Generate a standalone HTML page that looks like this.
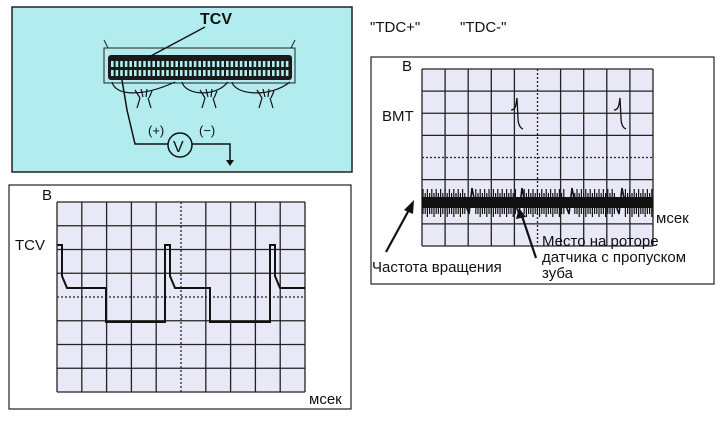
<!DOCTYPE html>
<html><head><meta charset="utf-8"><style>
html,body{margin:0;padding:0;background:#fff;width:725px;height:421px;overflow:hidden}
svg{display:block}
text{font-family:"Liberation Sans",sans-serif;fill:#111}
</style></head><body>
<svg id="s" width="725" height="421" viewBox="0 0 725 421" xmlns="http://www.w3.org/2000/svg">
<rect x="12" y="7" width="340" height="165" fill="#b2ecee" stroke="#222" stroke-width="1.5"/>
<path d="M108,48 L104,40 M291,48 L295,40" stroke="#222" fill="none"/>
<rect x="104" y="48" width="191" height="35" fill="#b2ecee" stroke="#222"/>
<rect x="108" y="55" width="184" height="25" rx="3" fill="#1a1a1a"/>
<g id="pins"></g>
<path d="M205,27 L147,58" stroke="#111" stroke-width="1.3"/>
<text x="200" y="24" font-size="16" font-weight="bold">TCV</text>
<g stroke="#111" fill="none" stroke-width="1.2">
<path d="M112,82 C115,95 140,98 175,82 M182,82 C185,95 215,98 228,82 M232,82 C235,95 270,98 290,82"/>
<path d="M140,98 l-5,-8 M143,97 l-2,-8 M146,97 l1,-8 M149,98 l3,-7 M205,98 l-5,-8 M208,97 l-2,-8 M211,97 l1,-8 M214,98 l3,-7 M262,98 l-5,-8 M265,97 l-2,-8 M268,97 l1,-8 M271,98 l3,-7"/>
<path d="M140,98 l-3,10 M148,98 l3,10 M205,98 l-3,10 M213,98 l3,10 M262,98 l-3,10 M270,98 l3,10"/>
<path d="M122,80 L127,110 L135,144 L168,144" stroke-width="1.5"/>
<path d="M192,144 L230,144 L230,160" stroke-width="1.5"/>
</g>
<polygon points="226,160 234,160 230,166" fill="#111"/>
<circle cx="180" cy="145" r="12" fill="#b2ecee" stroke="#111" stroke-width="1.5"/>
<text x="173" y="152" font-size="16">V</text>
<text x="148" y="135" font-size="13">(+)</text>
<text x="199" y="135" font-size="13">(−)</text>

<text x="370" y="32" font-size="15">"TDC+"</text>
<text x="460" y="32" font-size="15">"TDC-"</text>

<rect x="9" y="185" width="342" height="224" fill="#fff" stroke="#222" stroke-width="1.2"/>
<rect x="57" y="202" width="248" height="190" fill="#e8e8f6"/>
<g id="g1" stroke="#222" stroke-width="1.3"></g>
<text x="42" y="200" font-size="15">B</text>
<text x="15" y="250" font-size="15">TCV</text>
<text x="309" y="404" font-size="15">мсек</text>
<path d="M57,245 H62 V276 L67,288 H106 V322 H165 V245 H170 V276 L175,288 H210 V322 H270 V245 H275 V276 L280,288 H305" stroke="#111" stroke-width="2" fill="none"/>

<rect x="371" y="57" width="343" height="227" fill="#fff" stroke="#222" stroke-width="1.2"/>
<rect x="422" y="69" width="231" height="177" fill="#e8e8f6"/>
<g id="g2" stroke="#222" stroke-width="1.3"></g>
<g id="sig" stroke="#111" stroke-width="1.2"></g>
<path d="M511,110 C516,110 516,104 517,98 L518,118 C518,124 520,128 523,129 M614,110 C619,110 619,104 620,98 L621,118 C621,124 623,128 626,129" stroke="#111" stroke-width="1.3" fill="none"/>
<text x="402" y="71" font-size="15">B</text>
<text x="382" y="121" font-size="15">BMT</text>
<rect x="654" y="210" width="50" height="16" fill="#fff"/>
<text x="656" y="223" font-size="15">мсек</text>
<text x="542" y="246" font-size="15">Место на роторе</text>
<text x="542" y="262" font-size="15">датчика с пропуском</text>
<text x="542" y="278" font-size="15">зуба</text>
<text x="372" y="272" font-size="15">Частота вращения</text>
<path d="M386,252 L410,208" stroke="#111" stroke-width="2.2"/>
<polygon points="414,200 404,210 413,214" fill="#111"/>
<path d="M536,258 L522,216" stroke="#111" stroke-width="2.2"/>
<polygon points="519,208 516,219 526,217" fill="#111"/>
</svg>
<script>
var NS="http://www.w3.org/2000/svg";
function el(p,t,a){var e=document.createElementNS(NS,t);for(var k in a)e.setAttribute(k,a[k]);p.appendChild(e);return e;}
function grid(id,x0,y0,x1,y1,vc,hc){var g=document.getElementById(id);
for(var i=0;i<=10;i++){var x=x0+(x1-x0)*i/10;el(g,'line',{x1:x,y1:y0,x2:x,y2:y1,'stroke-dasharray':i==vc?'2,2':'none'});}
for(var j=0;j<=8;j++){var y=y0+(y1-y0)*j/8;el(g,'line',{x1:x0,y1:y,x2:x1,y2:y,'stroke-dasharray':j==hc?'2,2':'none'});}}
grid('g1',57,202,305,392,5,4);
grid('g2',422,69,653,246,5,4);
var p=document.getElementById('pins');
for(var r=0;r<2;r++)for(var x=111;x<289;x+=4.6){el(p,'rect',{x:x,y:r?70:61,width:2.6,height:6,fill:'#b2ecee'});}
var s=document.getElementById('sig');
var gaps=[470,520,570,620];
var i=0;
for(var x=423;x<653;x+=2.2){i++;var near=gaps.some(function(g){return Math.abs(x-g)<4;});
if(near)continue;var t=(i%2)?189:193;var b=(i%3)?214:217;el(s,'line',{x1:x,y1:t,x2:x,y2:b});}
el(s,'rect',{x:422,y:197,width:231,height:11,fill:'#111',stroke:'none'});
gaps.forEach(function(g){el(s,'path',{d:'M'+(g-5)+',203 L'+(g-1)+',214 L'+(g+2)+',188 L'+(g+5)+',203',fill:'none','stroke-width':1.6});});
</script>
</body></html>
